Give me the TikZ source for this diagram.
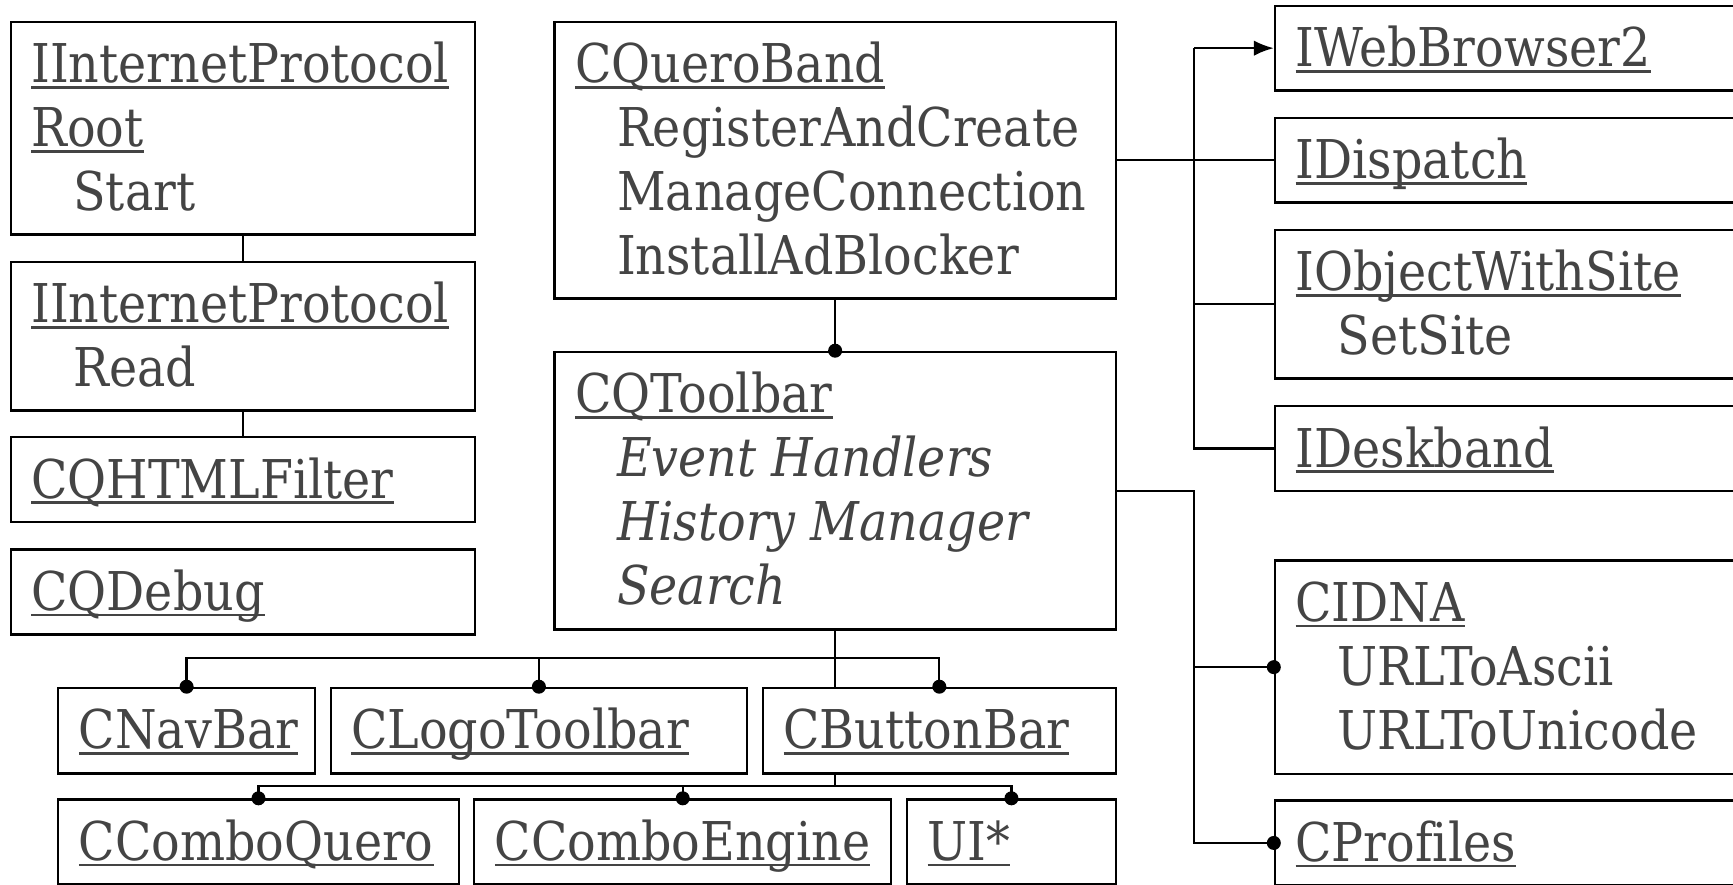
\documentclass[tikz,border=0pt]{standalone}
\usepackage{fontspec}
\setmainfont{DejaVu Serif}[FakeStretch=0.89,Ligatures=NoCommon]
\usetikzlibrary{arrows.meta,calc}
\definecolor{txt}{HTML}{444444}
\newlength\ulwd
\newcommand\ulname[1]{\settowidth\ulwd{#1}\rlap{\rule[-0.06cm]{\ulwd}{0.027cm}}#1}
\newcommand\meth[1]{\hspace*{0.42cm}#1}
\newcommand\stack[1]{\vtop{\baselineskip=0.64cm\lineskiplimit=-2cm\lineskip=0pt #1}}
\tikzset{
  box/.style={draw, line width=0.65pt, rectangle, inner sep=0pt, anchor=north west},
  txtnode/.style={inner sep=0pt, anchor=base west, text=txt, font=\fontsize{15.2pt}{18pt}\selectfont},
  conn/.style={line width=0.65pt},
}
\newcommand\mkbox[6]{%
  \node[box, minimum width=#4*0.01cm, minimum height=#5*0.01cm] (#1) at (#2,-#3) {};
  \node[txtnode] (#1-t) at ($(#1.north west)+(21,-62)$) {\stack{#6}};
}
\begin{document}
\begin{tikzpicture}[x=0.01cm,y=0.01cm]
\useasboundingbox (0,0) rectangle (1733,-884);
\clip (0,0) rectangle (1733,-884);
\fill[white] (0,0) rectangle (1733,-884);
% left column
\mkbox{root}{9.6}{20.7}{464.2}{212.6}{\hbox{\ulname{IInternetProtocol}}\hbox{\ulname{Root}}\hbox{\meth{Start}}}
\mkbox{proto}{9.6}{260.7}{464.2}{148.6}{\hbox{\ulname{IInternetProtocol}}\hbox{\meth{Read}}}
\mkbox{html}{9.6}{436}{464.2}{85}{\hbox{\ulname{CQHTMLFilter}}}
\mkbox{debug}{9.6}{548.3}{464.2}{85}{\hbox{\ulname{CQDebug}}}
% middle column
\mkbox{quero}{553.4}{20.7}{561.2}{276.6}{\hbox{\ulname{CQueroBand}}\hbox{\meth{RegisterAndCreate}}\hbox{\meth{ManageConnection}}\hbox{\meth{InstallAdBlocker}}}
\mkbox{tool}{553.4}{350.7}{561.2}{277.6}{\hbox{\ulname{CQToolbar}}\hbox{\meth{\itshape Event Handlers}}\hbox{\meth{\itshape History Manager}}\hbox{\meth{\itshape Search}}}
% right column
\mkbox{wb}{1273.8}{4.7}{480}{84.6}{\hbox{\ulname{IWebBrowser2}}}
\mkbox{disp}{1273.8}{116.7}{480}{84.6}{\hbox{\ulname{IDispatch}}}
\mkbox{ows}{1273.8}{228.7}{480}{148.6}{\hbox{\ulname{IObjectWithSite}}\hbox{\meth{SetSite}}}
\mkbox{desk}{1273.8}{405}{480}{84.6}{\hbox{\ulname{IDeskband}}}
\mkbox{idna}{1273.8}{559.3}{480}{213.4}{\hbox{\ulname{CIDNA}}\hbox{\meth{URLToAscii}}\hbox{\meth{URLToUnicode}}}
\mkbox{prof}{1273.8}{799.3}{480}{85}{\hbox{\ulname{CProfiles}}}
% bottom rows
\mkbox{nav}{57.1}{686.7}{256.7}{85.6}{\hbox{\ulname{CNavBar}}}
\mkbox{logo}{329.5}{686.7}{416.5}{85.6}{\hbox{\ulname{CLogoToolbar}}}
\mkbox{bbar}{761.8}{686.7}{352.8}{85.6}{\hbox{\ulname{CButtonBar}}}
\mkbox{cq}{57.1}{798.3}{400.5}{85}{\hbox{\ulname{CComboQuero}}}
\mkbox{ce}{473.2}{798.3}{416.8}{85}{\hbox{\ulname{CComboEngine}}}
\mkbox{ui}{906}{798.3}{208.6}{85}{\hbox{\ulname{UI*}}}
% connectors
\coordinate (bx) at (1194,0);
\coordinate (by1) at (0,-658.3);
\coordinate (by2) at (0,-786);
\draw[conn] (root.south) -- (proto.north);
\draw[conn] (proto.south) -- (html.north);
\draw[conn] (quero.south) -- (tool.north);
\fill (tool.north) circle (0.07cm);
\draw[conn] (quero.east) -- (disp.west);
\draw[conn, -{Latex[length=0.2cm,width=0.155cm]}] (bx |- wb.west) -- (wb.west);
\draw[conn] (bx |- wb.west) -- (bx |- desk.west) -- (desk.west);
\draw[conn] (bx |- ows.west) -- (ows.west);
\draw[conn] (tool.east) -- (bx |- tool.east) -- (bx |- prof.west) -- (prof.west);
\draw[conn] (bx |- idna.west) -- (idna.west);
\fill (idna.west) circle (0.07cm);
\fill (prof.west) circle (0.07cm);
\draw[conn] (tool.south) -- (tool.south |- bbar.north);
\draw[conn] (nav.north) -- (nav.north |- by1) -- (bbar.north |- by1) -- (bbar.north);
\draw[conn] (logo.north) -- (logo.north |- by1);
\fill (nav.north) circle (0.07cm);
\fill (logo.north) circle (0.07cm);
\fill (bbar.north) circle (0.07cm);
\draw[conn] (tool.south |- bbar.south) -- (tool.south |- by2);
\draw[conn] (cq.north) -- (cq.north |- by2) -- (ui.north |- by2) -- (ui.north);
\draw[conn] (ce.north) -- (ce.north |- by2);
\fill (cq.north) circle (0.07cm);
\fill (ce.north) circle (0.07cm);
\fill (ui.north) circle (0.07cm);
\end{tikzpicture}
\end{document}
